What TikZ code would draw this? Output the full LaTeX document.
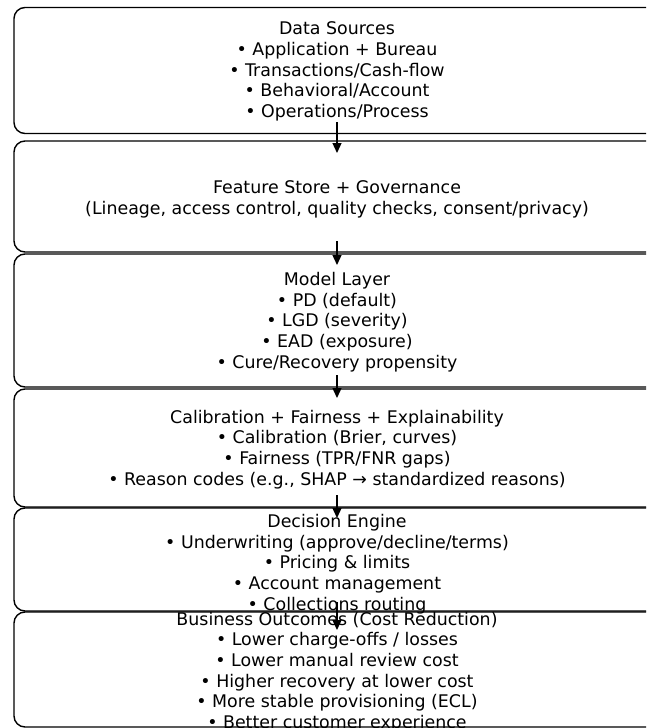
\documentclass[tikz,border=0pt]{standalone}
\usepackage{fontspec}
\setmainfont{DejaVu Sans}
\usetikzlibrary{arrows.meta}
\tikzset{
  layerbox/.style={draw=black, line width=1.4pt, rounded corners=11pt, fill=white,
    minimum width=646pt, inner sep=0pt},
  layertext/.style={align=center, inner sep=0pt,
    font=\fontsize{17.4}{20.7}\selectfont},
  flowarrow/.style={draw=black, line width=1.3pt, -{Triangle[length=10pt,width=9pt]}}
}
\begin{document}
\begin{tikzpicture}[x=1pt,y=-1pt]
\useasboundingbox (0,0) rectangle (646,728);
\clip (0,0) rectangle (646,728);
\node[layerbox, minimum height=126pt] (b1) at (337,70.5) {};
\node[layerbox, minimum height=111pt] (b2) at (337,196.5) {};
\node[layerbox, minimum height=133pt] (b3) at (337,320.5) {};
\node[layerbox, minimum height=118pt] (b4) at (337,448) {};
\node[layerbox, minimum height=103pt] (b5) at (337,559.5) {};
\node[layerbox, minimum height=115pt, fill=none] (b6) at (337,669.5) {};
\node[layertext] (t1) at (337,71.5) {Data Sources\\• Application + Bureau\\• Transactions/Cash-flow\\• Behavioral/Account\\• Operations/Process};
\node[layertext] (t2) at (337,199) {Feature Store + Governance\\(Lineage, access control, quality checks, consent/privacy)};
\node[layertext] (t3) at (337,322) {Model Layer\\• PD (default)\\• LGD (severity)\\• EAD (exposure)\\• Cure/Recovery propensity};
\node[layertext] (t4) at (337,449.5) {Calibration + Fairness + Explainability\\• Calibration (Brier, curves)\\• Fairness (TPR/FNR gaps)\\• Reason codes (e.g., SHAP → standardized reasons)};
\node[layertext] (t5) at (337,564) {Decision Engine\\• Underwriting (approve/decline/terms)\\• Pricing \& limits\\• Account management\\• Collections routing};
\node[layertext] (t6) at (337,672) {Business Outcomes (Cost Reduction)\\• Lower charge-offs / losses\\• Lower manual review cost\\• Higher recovery at lower cost\\• More stable provisioning (ECL)\\• Better customer experience};
\coordinate (s1) at (337,122); \coordinate (e1) at (337,153);
\coordinate (s2) at (337,241); \coordinate (e2) at (337,265);
\coordinate (s3) at (337,375); \coordinate (e3) at (337,398);
\coordinate (s4) at (337,495); \coordinate (e4) at (337,518);
\coordinate (s5) at (337,602); \coordinate (e5) at (337,630);
\draw[flowarrow] (s1) -- (e1);
\draw[flowarrow] (s2) -- (e2);
\draw[flowarrow] (s3) -- (e3);
\draw[flowarrow] (s4) -- (e4);
\draw[flowarrow] (s5) -- (e5);
\end{tikzpicture}
\end{document}
